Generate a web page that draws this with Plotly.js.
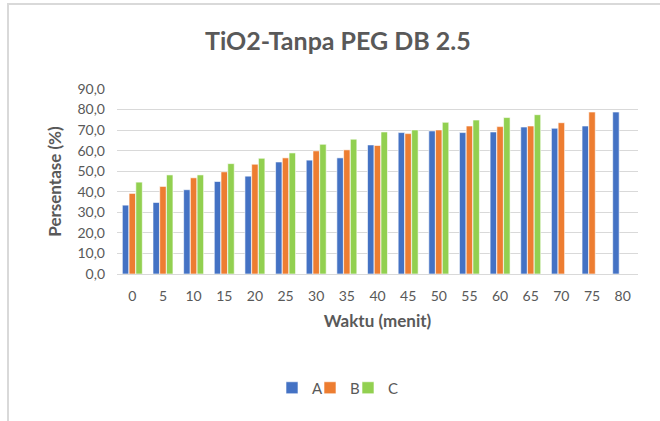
<!DOCTYPE html>
<html>
<head>
<meta charset="utf-8">
<script src="https://cdn.plot.ly/plotly-3.0.1.min.js"></script>
<style>
  html, body { margin: 0; padding: 0; background: #ffffff; overflow: hidden; }
  #wrap { position: relative; width: 660px; height: 421px; overflow: hidden; }
  #frame { position: absolute; left: 7px; top: 3px; width: 653px; height: 418px; border-top: 2px solid #d9d9d9; border-left: 2px solid #d9d9d9; box-sizing: border-box; }
  #chart { position: absolute; left: 0; top: 0; width: 660px; height: 421px; }
</style>
</head>
<body>
<div id="wrap">
  <div id="frame"></div>
  <div id="chart"></div>
</div>
<script>
const categories = ["0","5","10","15","20","25","30","35","40","45","50","55","60","65","70","75","80"];
const seriesA = [33.5, 34.8, 41.0, 45.0, 47.6, 54.5, 55.4, 56.5, 62.8, 68.8, 69.6, 68.8, 69.1, 71.5, 70.9, 72.0, 78.8];
const seriesB = [39.2, 42.6, 46.8, 49.7, 53.4, 56.5, 59.9, 60.4, 62.5, 68.3, 70.1, 72.0, 71.7, 72.0, 73.6, 78.8, null];
const seriesC = [44.7, 48.2, 48.2, 53.7, 56.3, 58.9, 63.1, 65.6, 69.1, 70.1, 73.8, 74.9, 76.1, 77.5, null, null, null];
const seriesNames = ["A", "B", "C"];
const colors = ["#4472C4", "#ED7D31", "#92D050"];
const legendIds = ["legend", "legend2", "legend3"];

const font = "Lato, 'Open Sans', sans-serif";
const grey = "#595959";

const traces = [seriesA, seriesB, seriesC].map((vals, i) => ({
  type: "bar",
  name: seriesNames[i],
  x: categories,
  y: vals,
  legend: legendIds[i],
  marker: { color: colors[i], line: { color: "#ffffff", width: 0.6 } },
  hoverinfo: "x+y+name"
}));

function legendAt(px) {
  return {
    orientation: "h",
    xref: "container", yref: "container",
    x: px / 660, xanchor: "left",
    y: 1 - 388 / 421, yanchor: "middle",
    font: { family: font, size: 15, color: grey },
    itemwidth: 30,
    bgcolor: "rgba(0,0,0,0)"
  };
}

const layout = {
  width: 660,
  height: 421,
  margin: { l: 117, r: 22, t: 89, b: 147 },
  paper_bgcolor: "rgba(0,0,0,0)",
  plot_bgcolor: "rgba(0,0,0,0)",
  separators: ",.",
  barmode: "group",
  bargap: 0.34,
  bargroupgap: 0.04,
  font: { family: font, color: grey, size: 14 },
  title: {
    text: "<b>TiO2-Tanpa PEG DB 2.5</b>",
    font: { family: font, size: 25, color: grey },
    xref: "container", yref: "container",
    x: 0.512, xanchor: "center",
    y: 1 - 41 / 421, yanchor: "middle"
  },
  xaxis: {
    type: "category",
    showgrid: false,
    showline: true,
    linecolor: "#d9d9d9",
    linewidth: 1,
    ticks: "",
    tickfont: { family: font, size: 14, color: grey },
    ticklabelstandoff: 9,
    title: { text: "<b>Waktu (menit)</b>", font: { family: font, size: 17, color: grey }, standoff: 12 }
  },
  yaxis: {
    range: [0, 90],
    dtick: 10,
    tickformat: ".1f",
    showgrid: true,
    gridcolor: "#d9d9d9",
    gridwidth: 1,
    zeroline: false,
    showline: false,
    ticks: "",
    tickfont: { family: font, size: 14, color: grey },
    ticklabelstandoff: 11,
    title: { text: "<b>Persentase (%)</b>", font: { family: font, size: 17, color: grey }, standoff: 11 }
  },
  showlegend: true,
  legend: legendAt(272),
  legend2: legendAt(310),
  legend3: legendAt(348)
};

Plotly.newPlot("chart", traces, layout, { displayModeBar: false, staticPlot: true });
</script>
</body>
</html>
